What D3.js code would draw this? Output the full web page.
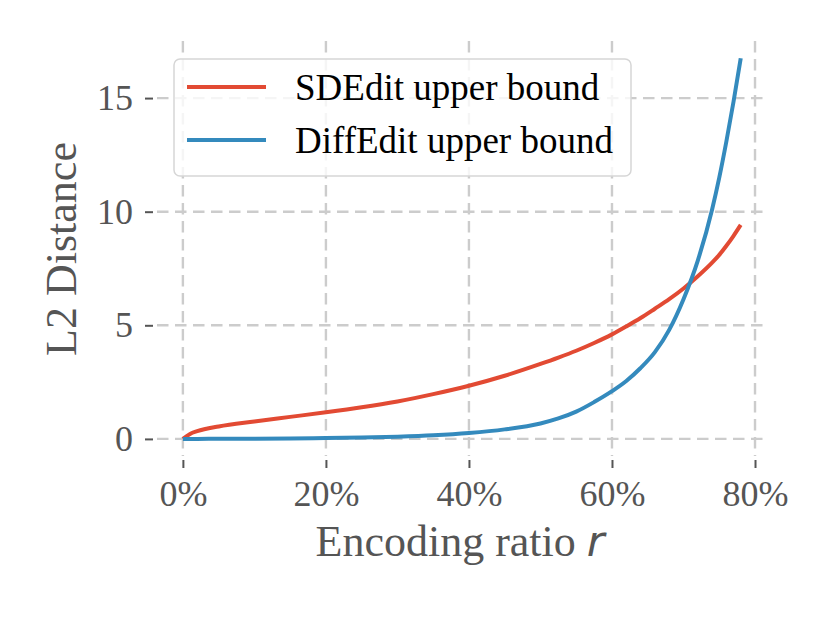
<!DOCTYPE html>
<html>
<head>
<meta charset="utf-8">
<script src="https://cdn.jsdelivr.net/npm/d3@7"></script>
<style>
  html, body { margin: 0; padding: 0; background: #fff; }
  svg { display: block; }
</style>
</head>
<body>
<svg id="chart" width="830" height="623"></svg>
<script>
// ---- data ----
const ratios = [0, 0.01, 0.02, 0.05, 0.10, 0.15, 0.20, 0.25, 0.30, 0.35, 0.40, 0.45, 0.50, 0.525, 0.55, 0.575, 0.60, 0.62, 0.64, 0.66, 0.68, 0.70, 0.72, 0.74, 0.75, 0.76, 0.77, 0.78];
const sdeditUpper = [0, 0.22, 0.34, 0.55, 0.77, 0.97, 1.17, 1.39, 1.65, 1.97, 2.34, 2.78, 3.30, 3.58, 3.88, 4.22, 4.60, 4.95, 5.32, 5.73, 6.15, 6.62, 7.16, 7.76, 8.10, 8.50, 8.94, 9.42];
const diffeditUpper = [0, 0.00, 0.00, 0.005, 0.01, 0.02, 0.04, 0.06, 0.10, 0.16, 0.26, 0.42, 0.68, 0.90, 1.20, 1.62, 2.10, 2.55, 3.12, 3.82, 4.80, 6.15, 7.85, 10.1, 11.5, 13.1, 14.85, 16.75];
const seriesNames = ["SDEdit upper bound", "DiffEdit upper bound"];
const seriesColors = ["#E24A33", "#348ABD"];
const xTicks = [0, 0.2, 0.4, 0.6, 0.8];
const xTickLabels = ["0%", "20%", "40%", "60%", "80%"];
const yTicks = [0, 5, 10, 15];
const yTickLabels = ["0", "5", "10", "15"];

// ---- chart ----
const svg = d3.select("#chart");
const x = d3.scaleLinear().domain([-0.039, 0.819]).range([155, 768.6]);
const y = d3.scaleLinear().domain([-0.84, 17.6]).range([458, 39]);

const gridColor = "#cccccc";
const textColor = "#555555";
const font = "'Liberation Serif', 'Times New Roman', serif";

// grid
const grid = svg.append("g");
grid.selectAll("line.vg").data(xTicks).join("line")
  .attr("x1", d => x(d)).attr("x2", d => x(d))
  .attr("y1", 41).attr("y2", 456)
  .attr("stroke", gridColor).attr("stroke-width", 2.4)
  .attr("stroke-dasharray", "11.5,6.5");
grid.selectAll("line.hg").data(yTicks).join("line")
  .attr("x1", 157).attr("x2", 767)
  .attr("y1", d => y(d)).attr("y2", d => y(d))
  .attr("stroke", gridColor).attr("stroke-width", 2.4)
  .attr("stroke-dasharray", "11.5,6.5");

// x axis (spine hidden)
const xAxis = d3.axisBottom(x).tickValues(xTicks)
  .tickFormat((d, i) => xTickLabels[i]).tickSize(8).tickPadding(12);
const gx = svg.append("g").attr("transform", "translate(0,460)").call(xAxis);
gx.select(".domain").remove();
gx.selectAll(".tick line").attr("stroke", textColor).attr("stroke-width", 2);
gx.selectAll(".tick text").attr("fill", textColor)
  .style("font-family", font).style("font-size", "36px");

// y axis
const yAxis = d3.axisLeft(y).tickValues(yTicks)
  .tickFormat((d, i) => yTickLabels[i]).tickSize(8).tickPadding(12);
const gy = svg.append("g").attr("transform", "translate(153,0)").call(yAxis);
gy.select(".domain").remove();
gy.selectAll(".tick line").attr("stroke", textColor).attr("stroke-width", 2);
gy.selectAll(".tick text").attr("fill", textColor)
  .style("font-family", font).style("font-size", "36px");

// lines
const seriesData = [sdeditUpper, diffeditUpper];
const line = d3.line()
  .x((d, i) => x(ratios[i]))
  .y(d => y(d))
  .curve(d3.curveMonotoneX);
svg.append("g").selectAll("path").data(seriesData).join("path")
  .attr("d", d => line(d))
  .attr("fill", "none")
  .attr("stroke", (d, i) => seriesColors[i])
  .attr("stroke-width", 4)
  .attr("stroke-linejoin", "round");

// axis labels
svg.append("text")
  .attr("x", 460).attr("y", 556)
  .attr("text-anchor", "middle")
  .attr("fill", textColor)
  .style("font-family", font).style("font-size", "44px")
  .text("Encoding ratio ")
  .append("tspan")
  .style("font-family", "'DejaVu Sans', sans-serif")
  .style("font-style", "italic")
  .style("font-size", "43px")
  .text("r");

svg.append("text")
  .attr("transform", "translate(76,249) rotate(-90)")
  .attr("text-anchor", "middle")
  .attr("fill", textColor)
  .style("font-family", font).style("font-size", "44px")
  .text("L2 Distance");

// legend
const leg = svg.append("g");
leg.append("rect")
  .attr("x", 174).attr("y", 59).attr("width", 457).attr("height", 117)
  .attr("rx", 6).attr("ry", 6)
  .attr("fill", "#ffffff").attr("fill-opacity", 0.8)
  .attr("stroke", "#d6d6d6").attr("stroke-width", 1.5);
const legRowY = [87, 140];
seriesNames.forEach((name, i) => {
  leg.append("line")
    .attr("x1", 187).attr("x2", 266)
    .attr("y1", legRowY[i]).attr("y2", legRowY[i])
    .attr("stroke", seriesColors[i]).attr("stroke-width", 4);
  leg.append("text")
    .attr("x", 295).attr("y", legRowY[i] + 13)
    .attr("fill", "#000")
    .style("font-family", font).style("font-size", "37px")
    .text(name);
});
</script>
</body>
</html>
